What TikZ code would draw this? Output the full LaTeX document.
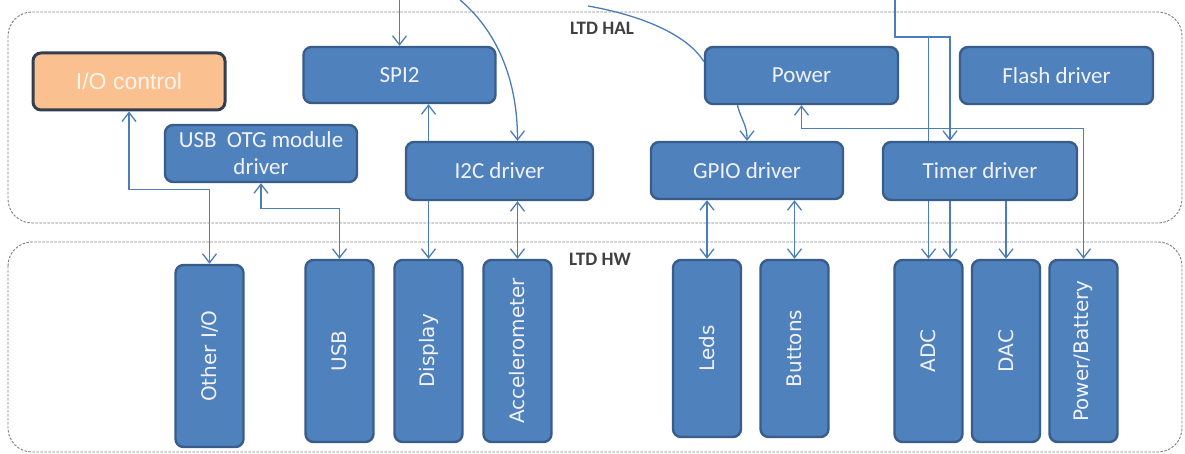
\documentclass[tikz,border=0pt]{standalone}
\usepackage{fontspec}
\setmainfont{Carlito}
\newfontfamily\arialfam{Liberation Sans}
\newfontfamily\verdfam{DejaVu Sans}
\usetikzlibrary{arrows.meta,calc}
\pgfdeclarelayer{bg}
\pgfsetlayers{bg,main}
\definecolor{boxfill}{HTML}{4F81BD}
\definecolor{boxline}{HTML}{385D8A}
\definecolor{orfill}{HTML}{FAC090}
\definecolor{orline}{HTML}{333F50}
\definecolor{conn}{HTML}{4A7EBB}
\definecolor{cont}{HTML}{7F7F7F}
\definecolor{lbl}{HTML}{404040}
\newcommand{\vlabel}[1]{\rotatebox{90}{\verdfam\fontsize{20}{24}\selectfont #1}}
\tikzset{
  hbox/.style={draw=boxline, line width=2.4pt, fill=boxfill, rounded corners=8pt,
    minimum width=#1, minimum height=56pt, inner sep=0pt, text=white!95!blue,
    font=\fontsize{23}{28}\selectfont, align=center},
  hbox/.default=192pt,
  iobox/.style={draw=orline, line width=3pt, fill=orfill, rounded corners=8pt,
    minimum width=192pt, minimum height=57pt, inner sep=0pt, text=white!92!orange,
    font=\arialfam\fontsize{23}{28}\selectfont},
  vbox/.style={draw=boxline, line width=2.4pt, fill=boxfill, rounded corners=8pt,
    minimum width=68pt, minimum height=#1, inner sep=0pt, text=white!95!blue},
  vbox/.default=182pt,
  container/.style={draw=cont, line width=0.9pt, dash pattern=on 2.5pt off 1.5pt, rounded corners=24pt},
  conline/.style={draw=conn, line width=1.3pt},
  tip/.style={-{Straight Barb[length=9pt,width=14pt,line width=1.3pt]}},
  dtip/.style={{Straight Barb[length=9pt,width=14pt,line width=1.3pt]}-{Straight Barb[length=9pt,width=14pt,line width=1.3pt]}},
  grp/.style={text=lbl, font=\bfseries\fontsize{19}{21}\selectfont}
}
\begin{document}
\begin{tikzpicture}[x=1pt,y=-1pt]
\useasboundingbox (0,0) rectangle (1185,454);
\begin{pgfonlayer}{bg}
\fill[white] (0,0) rectangle (1185,454);
\draw[container] (8,12) rectangle (1182,223);
\draw[container] (8,242) rectangle (1182,452);
\end{pgfonlayer}
\node[grp] (hal) at (602,28) {LTD HAL};
\node[grp] (hw) at (600,259) {LTD HW};
\path
  node[iobox] (io) at (129,81.5) {I/O control}
  node[hbox] (spi) at (399.5,75) {SPI2}
  node[hbox=192pt, minimum height=57pt] (otg) at (261,153.5) {USB\ \ OTG module\\[-1pt]driver}
  node[hbox=187pt, minimum height=58pt] (i2c) at (499.5,171) {I2C driver}
  node[hbox=193pt, minimum height=57pt] (power) at (801.5,75.5) {Power}
  node[hbox=193pt, minimum height=57pt] (flash) at (1056.5,75.5) {Flash driver}
  node[hbox=192pt, minimum height=57pt] (gpio) at (747,170.5) {GPIO driver}
  node[hbox=194pt, minimum height=58pt] (timer) at (980,171) {Timer driver}
  node[vbox] (other) at (209.5,356) {\vlabel{Other I/O}}
  node[vbox] (usb) at (339.5,351) {\vlabel{USB}}
  node[vbox] (display) at (428.5,351) {\vlabel{Display}}
  node[vbox] (accel) at (517.5,351) {\vlabel{Accelerometer}}
  node[vbox=177pt] (leds) at (707,348.5) {\vlabel{Leds}}
  node[vbox=177pt] (buttons) at (794.5,348.5) {\vlabel{Buttons}}
  node[vbox] (adc) at (928.5,351) {\vlabel{ADC}}
  node[vbox] (dac) at (1006,351) {\vlabel{DAC}}
  node[vbox] (pb) at (1083.5,351) {\vlabel{Power/Battery}};
\coordinate (in1) at (399.5,0);
\coordinate (in2) at (460,0);
\coordinate (in3) at (588,6);
\coordinate (in4) at (895,0);
\coordinate (tj) at (928.5,37);
\begin{pgfonlayer}{bg}
\draw[conline,dtip] (io.south) -- ++(0,78) -| (other.north);
\draw[conline,dtip] (otg.south) -- ++(0,25) -| (usb.north);
\draw[conline,dtip] (spi.south -| display.north) -- (display.north);
\draw[conline,dtip] (i2c.south -| accel.north) -- (accel.north);
\draw[conline,tip] (in1) -- (spi.north);
\draw[conline,tip] (in2) .. controls (490,25) and (517.5,70) .. (i2c.north -| accel.north);
\draw[conline] (in3) .. controls (645,16) and (688,36) .. ([yshift=14pt]power.west);
\draw[conline,tip] ([xshift=-64pt]power.south) .. controls (741,120) and (747,124) .. (gpio.north);
\draw[conline,tip] (in4) -- ++(0,37) -| ([xshift=-30pt]timer.north);
\draw[conline,tip] (tj) -- (adc.north);
\draw[conline,tip] ([xshift=-30pt]timer.south) -- ([xshift=-30pt]timer.south |- adc.north);
\draw[conline,tip] (timer.south -| dac.north) -- (dac.north);
\draw[conline,dtip] (power.south) -- ++(0,23) -| (pb.north);
\draw[conline,dtip] (gpio.south -| leds.north) -- (leds.north);
\draw[conline,dtip] (gpio.south -| buttons.north) -- (buttons.north);
\end{pgfonlayer}
\end{tikzpicture}
\end{document}
